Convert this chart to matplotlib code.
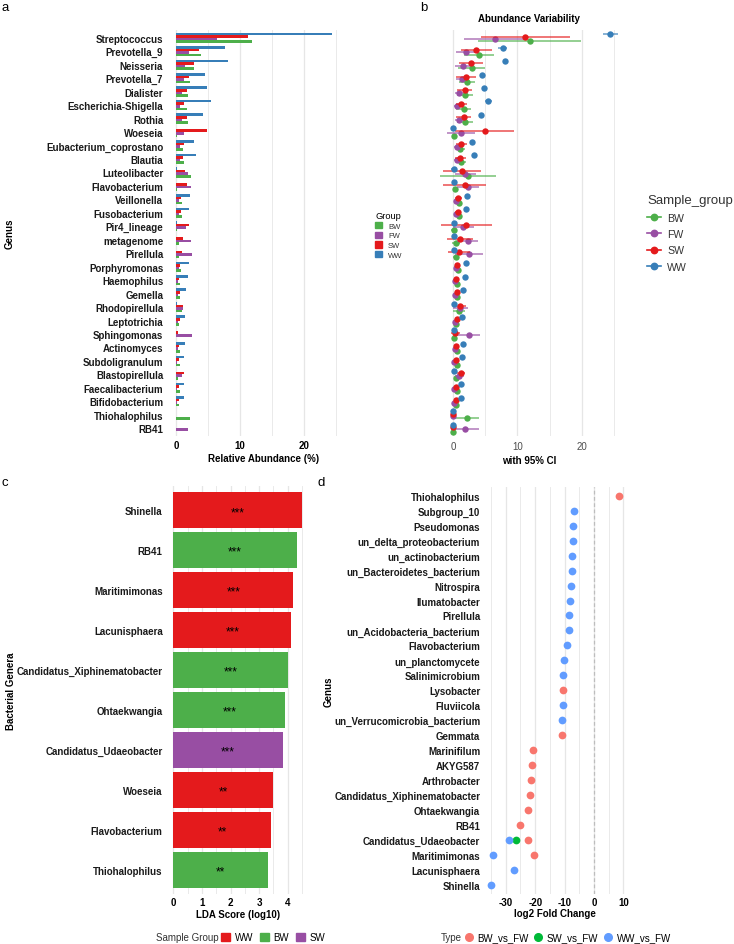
import numpy as np
import matplotlib.pyplot as plt
from matplotlib.lines import Line2D
from matplotlib.patches import Patch

plt.rcParams['font.family'] = ['Liberation Sans', 'DejaVu Sans']

# ---- panel a / b data: mean relative abundance (%) and 95% CI half width ----
genera = ['Streptococcus', 'Prevotella_9', 'Neisseria', 'Prevotella_7', 'Dialister',
          'Escherichia-Shigella', 'Rothia', 'Woeseia', 'Eubacterium_coprostano', 'Blautia',
          'Luteolibacter', 'Flavobacterium', 'Veillonella', 'Fusobacterium', 'Pir4_lineage',
          'metagenome', 'Pirellula', 'Porphyromonas', 'Haemophilus', 'Gemella',
          'Rhodopirellula', 'Leptotrichia', 'Sphingomonas', 'Actinomyces', 'Subdoligranulum',
          'Blastopirellula', 'Faecalibacterium', 'Bifidobacterium', 'Thiohalophilus', 'RB41']
abund_ww = [24.4, 7.7, 8.1, 4.5, 4.8, 5.5, 4.3, 0.05, 2.9, 3.2, 0.15, 0.1, 2.2, 2.0, 0.15,
            0.1, 0.1, 2.0, 1.9, 1.6, 0.15, 1.45, 0.1, 1.5, 1.35, 0.1, 1.25, 1.25, 0.0, 0.0]
abund_sw = [11.2, 3.6, 2.8, 2.1, 1.8, 1.3, 1.7, 4.9, 1.3, 1.15, 1.45, 1.8, 0.8, 0.8, 2.1,
            1.1, 1.0, 0.7, 0.5, 0.7, 1.05, 0.7, 0.35, 0.5, 0.55, 1.3, 0.45, 0.5, 0.0, 0.0]
abund_fw = [6.5, 2.1, 1.5, 1.35, 0.9, 0.7, 1.0, 1.3, 0.7, 0.6, 1.9, 2.3, 0.5, 0.5, 1.6,
            2.3, 2.45, 0.45, 0.3, 0.3, 1.15, 0.3, 2.45, 0.3, 0.2, 1.0, 0.2, 0.2, 0.0, 1.9]
abund_bw = [11.9, 4.0, 2.9, 2.2, 1.9, 1.7, 1.9, 0.15, 1.15, 1.2, 2.35, 0.25, 0.9, 0.9, 0.2,
            0.5, 0.45, 0.8, 0.6, 0.6, 0.9, 0.5, 0.1, 0.6, 0.6, 0.4, 0.6, 0.5, 2.2, 0.0]
ci_ww = [1.2, 0.65, 0.35, 0.35, 0.3, 0.5, 0.3, 0.1, 0.3, 0.3, 0.45, 0.2, 0.25, 0.25, 0.15,
         0.1, 0.1, 0.25, 0.2, 0.2, 0.1, 0.2, 0.1, 0.2, 0.2, 0.1, 0.2, 0.2, 0.0, 0.0]
ci_sw = [6.9, 2.4, 1.8, 1.55, 1.2, 0.85, 1.15, 4.55, 0.85, 0.9, 2.95, 3.4, 0.55, 0.5, 4.0,
         2.05, 1.7, 0.35, 0.3, 0.4, 1.0, 0.35, 0.7, 0.3, 0.3, 0.6, 0.3, 0.3, 0.0, 0.0]
ci_fw = [4.8, 1.55, 1.15, 0.9, 0.65, 0.55, 0.75, 2.15, 0.5, 0.45, 1.6, 1.7, 0.35, 0.3, 1.65,
         1.65, 2.15, 0.3, 0.2, 0.2, 1.15, 0.2, 1.8, 0.2, 0.15, 0.75, 0.15, 0.15, 0.0, 2.2]
ci_bw = [8.0, 2.35, 2.1, 1.25, 1.25, 1.15, 1.2, 0.15, 0.75, 0.75, 4.35, 0.25, 0.55, 0.5, 0.45,
         0.6, 0.4, 0.5, 0.35, 0.35, 0.9, 0.3, 0.1, 0.35, 0.35, 0.3, 0.35, 0.3, 1.9, 0.0]

# ---- panel c data: LEfSe ----
lda_genera = ['Shinella', 'RB41', 'Maritimimonas', 'Lacunisphaera', 'Candidatus_Xiphinematobacter',
              'Ohtaekwangia', 'Candidatus_Udaeobacter', 'Woeseia', 'Flavobacterium', 'Thiohalophilus']
lda_score = [4.51, 4.32, 4.2, 4.12, 4.0, 3.91, 3.82, 3.5, 3.41, 3.32]
lda_group = ['WW', 'BW', 'WW', 'WW', 'BW', 'BW', 'SW', 'WW', 'WW', 'BW']
lda_sig = ['***', '***', '***', '***', '***', '***', '***', '**', '**', '**']

# ---- panel d data: log2 fold change ----
fc_genera = ['Thiohalophilus', 'Subgroup_10', 'Pseudomonas', 'un_delta_proteobacterium',
             'un_actinobacterium', 'un_Bacteroidetes_bacterium', 'Nitrospira', 'Ilumatobacter',
             'Pirellula', 'un_Acidobacteria_bacterium', 'Flavobacterium', 'un_planctomycete',
             'Salinimicrobium', 'Lysobacter', 'Fluviicola', 'un_Verrucomicrobia_bacterium',
             'Gemmata', 'Marinifilum', 'AKYG587', 'Arthrobacter', 'Candidatus_Xiphinematobacter',
             'Ohtaekwangia', 'RB41', 'Candidatus_Udaeobacter', 'Maritimimonas', 'Lacunisphaera',
             'Shinella']
fc_genus = ['Thiohalophilus', 'Subgroup_10', 'Pseudomonas', 'un_delta_proteobacterium',
            'un_actinobacterium', 'un_Bacteroidetes_bacterium', 'Nitrospira', 'Ilumatobacter',
            'Pirellula', 'un_Acidobacteria_bacterium', 'Flavobacterium', 'un_planctomycete',
            'Salinimicrobium', 'Lysobacter', 'Fluviicola', 'un_Verrucomicrobia_bacterium',
            'Gemmata', 'Marinifilum', 'AKYG587', 'Arthrobacter', 'Candidatus_Xiphinematobacter',
            'Ohtaekwangia', 'RB41', 'Candidatus_Udaeobacter', 'Candidatus_Udaeobacter',
            'Candidatus_Udaeobacter', 'Maritimimonas', 'Maritimimonas', 'Lacunisphaera', 'Shinella']
fc_type = ['BW_vs_FW', 'WW_vs_FW', 'WW_vs_FW', 'WW_vs_FW', 'WW_vs_FW', 'WW_vs_FW', 'WW_vs_FW',
           'WW_vs_FW', 'WW_vs_FW', 'WW_vs_FW', 'WW_vs_FW', 'WW_vs_FW', 'WW_vs_FW', 'BW_vs_FW',
           'WW_vs_FW', 'WW_vs_FW', 'BW_vs_FW', 'BW_vs_FW', 'BW_vs_FW', 'BW_vs_FW', 'BW_vs_FW',
           'BW_vs_FW', 'BW_vs_FW', 'WW_vs_FW', 'SW_vs_FW', 'BW_vs_FW', 'WW_vs_FW', 'BW_vs_FW',
           'WW_vs_FW', 'WW_vs_FW']
fc_value = [8.6, -6.9, -7.0, -7.25, -7.5, -7.6, -7.9, -8.15, -8.4, -8.5, -9.1, -10.1, -10.5,
            -10.6, -10.6, -10.8, -11.0, -20.7, -21.1, -21.4, -21.7, -22.5, -25.1, -28.9, -26.5,
            -22.5, -34.2, -20.4, -27.3, -35.1]

set1 = {'WW': '#377EB8', 'SW': '#E41A1C', 'FW': '#984EA3', 'BW': '#4DAF4A'}
lda_cols = {'WW': '#E41A1C', 'BW': '#4DAF4A', 'SW': '#984EA3'}
fc_cols = {'BW_vs_FW': '#F8766D', 'SW_vs_FW': '#00BA38', 'WW_vs_FW': '#619CFF'}
grid_c = '#E6E6E6'

W, H = 734, 945
fig = plt.figure(figsize=(W / 100, H / 100), dpi=100)


def box(l, t, r, b):
    return [l / W, 1 - b / H, (r - l) / W, (b - t) / H]


def ftext(x, y, s, **kw):
    fig.text(x / W, 1 - y / H, s, **kw)


def clean(ax):
    for s in ax.spines.values():
        s.set_visible(False)
    ax.tick_params(which='both', length=0)
    ax.grid(axis='x', which='major', color=grid_c, lw=0.9)
    ax.grid(axis='x', which='minor', color=grid_c, lw=0.6)
    ax.grid(axis='y', visible=False)
    ax.set_axisbelow(True)


groups = ['WW', 'SW', 'FW', 'BW']
abund = {'WW': abund_ww, 'SW': abund_sw, 'FW': abund_fw, 'BW': abund_bw}
ci = {'WW': ci_ww, 'SW': ci_sw, 'FW': ci_fw, 'BW': ci_bw}
ypos = np.arange(len(genera))
n = len(genera)

# ---------------- a ----------------
ax = fig.add_axes(box(168, 30.6, 340, 437.4))
bh = 0.19
for i, g in enumerate(groups):
    ax.barh(ypos + (i - 1.5) * bh, abund[g], height=bh, color=set1[g])
ax.set_xlim(-1.22, 25.62)
ax.set_ylim(n - 0.4, -0.6)
ax.set_yticks(ypos, genera, fontsize=7, fontweight='bold', color='#1A1A1A')
ax.set_xticks([0, 10, 20], ['0', '10', '20'], fontsize=7, fontweight='bold')
ax.set_xticks([5, 15, 25], minor=True)
clean(ax)
ax.tick_params(axis='y', pad=3.5)
ax.tick_params(axis='x', pad=2.5)

# ---------------- b ----------------
axb = fig.add_axes(box(431, 30.6, 626.5, 437.4))
dodge = 0.175
for i, g in reversed(list(enumerate(groups))):
    yy = ypos + (i - 1.5) * dodge
    axb.errorbar(abund[g], yy, xerr=ci[g], fmt='none', ecolor=set1[g], elinewidth=1.3,
                 alpha=0.65, capsize=0)
    axb.plot(abund[g], yy, 'o', color=set1[g], ms=4.6, mew=0)
axb.set_xlim(-3.4, 26.9)
axb.set_ylim(n - 0.4, -0.6)
axb.set_yticks([])
axb.set_xticks([0, 10, 20], ['0', '10', '20'], fontsize=7, color='#4D4D4D')
axb.set_xticks([5, 15, 25], minor=True)
clean(axb)
axb.tick_params(axis='x', pad=3.5)

# ---------------- c ----------------
axc = fig.add_axes(box(166.9, 487, 308.6, 894.5))
yc = np.arange(len(lda_genera))
axc.barh(yc, lda_score, height=0.9, color=[lda_cols[g] for g in lda_group])
for yv, sc, sg in zip(yc, lda_score, lda_sig):
    axc.text(sc / 2, yv + 0.05, sg, ha='center', va='center', fontsize=8.5)
axc.set_xlim(-0.225, 4.73)
axc.set_ylim(len(lda_genera) - 0.4, -0.6)
axc.set_yticks(yc, lda_genera, fontsize=7, fontweight='bold', color='#1A1A1A')
axc.set_xticks([0, 1, 2, 3, 4], ['0', '1', '2', '3', '4'], fontsize=7, fontweight='bold')
axc.set_xticks([0.5, 1.5, 2.5, 3.5, 4.5], minor=True)
clean(axc)
axc.tick_params(axis='y', pad=3)
axc.tick_params(axis='x', pad=2.5)

# ---------------- d ----------------
axd = fig.add_axes(box(484.3, 487.7, 625.8, 895))
yd_map = {g: i for i, g in enumerate(fc_genera)}
for t in ['BW_vs_FW', 'SW_vs_FW', 'WW_vs_FW']:
    xs = [v for v, tt in zip(fc_value, fc_type) if tt == t]
    ys = [yd_map[g] for g, tt in zip(fc_genus, fc_type) if tt == t]
    axd.scatter(xs, ys, s=31, color=fc_cols[t], linewidths=0, zorder=3)
axd.axvline(0, color='#BDBDBD', ls=(0, (3, 2)), lw=0.9)
axd.set_xlim(-37.3, 10.8)
axd.set_ylim(len(fc_genera) - 0.4, -0.6)
axd.set_yticks(np.arange(len(fc_genera)), fc_genera, fontsize=7, fontweight='bold',
               color='#1A1A1A')
axd.set_xticks([-30, -20, -10, 0, 10], ['-30', '-20', '-10', '0', '10'], fontsize=7,
               fontweight='bold')
axd.set_xticks([-35, -25, -15, -5, 5], minor=True)
clean(axd)
axd.tick_params(axis='y', pad=3)
axd.tick_params(axis='x', pad=2.5)

# ---------------- titles and labels ----------------
ftext(2, 8, 'a', fontsize=9.5, va='center')
ftext(420, 8, 'b', fontsize=9.5, va='center')
ftext(2, 483, 'c', fontsize=9.5, va='center')
ftext(317, 483, 'd', fontsize=9.5, va='center')
ftext(528.7, 19, 'Abundance Variability', fontsize=7, fontweight='bold', ha='center', va='center')
ftext(263.8, 459.3, 'Relative Abundance (%)', fontsize=7, fontweight='bold', ha='center',
      va='center')
ftext(528.7, 460.7, 'with 95% CI', fontsize=7, fontweight='bold', ha='center', va='center')
ftext(238, 915, 'LDA Score (log10)', fontsize=7, fontweight='bold', ha='center', va='center')
ftext(555, 914.3, 'log2 Fold Change', fontsize=7, fontweight='bold', ha='center', va='center')
ftext(10, 234, 'Genus', fontsize=7, fontweight='bold', rotation=90, ha='center', va='center')
ftext(11.3, 690.8, 'Bacterial Genera', fontsize=7, fontweight='bold', rotation=90, ha='center',
      va='center')
ftext(329, 691.3, 'Genus', fontsize=7, fontweight='bold', rotation=90, ha='center', va='center')

# ---------------- legends ----------------
leg_order = ['BW', 'FW', 'SW', 'WW']
lg = fig.legend(handles=[Patch(color=set1[g]) for g in leg_order], labels=leg_order,
                title='Group', loc='upper left', bbox_to_anchor=(372 / W, 1 - 209 / H),
                frameon=False, fontsize=5.5, title_fontsize=6.7, handlelength=0.9,
                handleheight=0.9, labelspacing=0.25, handletextpad=0.8, alignment='left',
                borderaxespad=0)
for t in lg.get_texts():
    t.set_color('#333333')

lg2 = fig.legend(handles=[Line2D([0], [0], color=set1[g], marker='o', ms=4.6, lw=1.2)
                          for g in leg_order],
                 labels=leg_order, title='Sample_group', loc='upper left',
                 bbox_to_anchor=(643 / W, 1 - 191 / H), frameon=False, fontsize=7.6,
                 title_fontsize=9.5, handlelength=1.3, labelspacing=0.6, handletextpad=0.6,
                 alignment='left', borderaxespad=0)
for t in lg2.get_texts():
    t.set_color('#333333')
lg2.get_title().set_color('#333333')

ftext(156, 938, 'Sample Group', fontsize=7, va='center', color='#333333')
fig.legend(handles=[Patch(color=lda_cols[g]) for g in ['WW', 'BW', 'SW']],
           labels=['WW', 'BW', 'SW'], ncol=3, loc='center left',
           bbox_to_anchor=(221 / W, 1 - 938 / H), frameon=False, fontsize=7,
           handlelength=0.9, handleheight=0.9, handletextpad=0.5, columnspacing=0.7,
           borderaxespad=0, borderpad=0)

ftext(441, 938, 'Type', fontsize=7, va='center', color='#333333')
fig.legend(handles=[Line2D([0], [0], color=fc_cols[t], marker='o', ms=5.5, lw=0)
                    for t in ['BW_vs_FW', 'SW_vs_FW', 'WW_vs_FW']],
           labels=['BW_vs_FW', 'SW_vs_FW', 'WW_vs_FW'], ncol=3, loc='center left',
           bbox_to_anchor=(464 / W, 1 - 938 / H), frameon=False, fontsize=7,
           handlelength=1.0, handletextpad=0.4, columnspacing=0.45, borderaxespad=0,
           borderpad=0)

fig.savefig('out.png', dpi=100)
